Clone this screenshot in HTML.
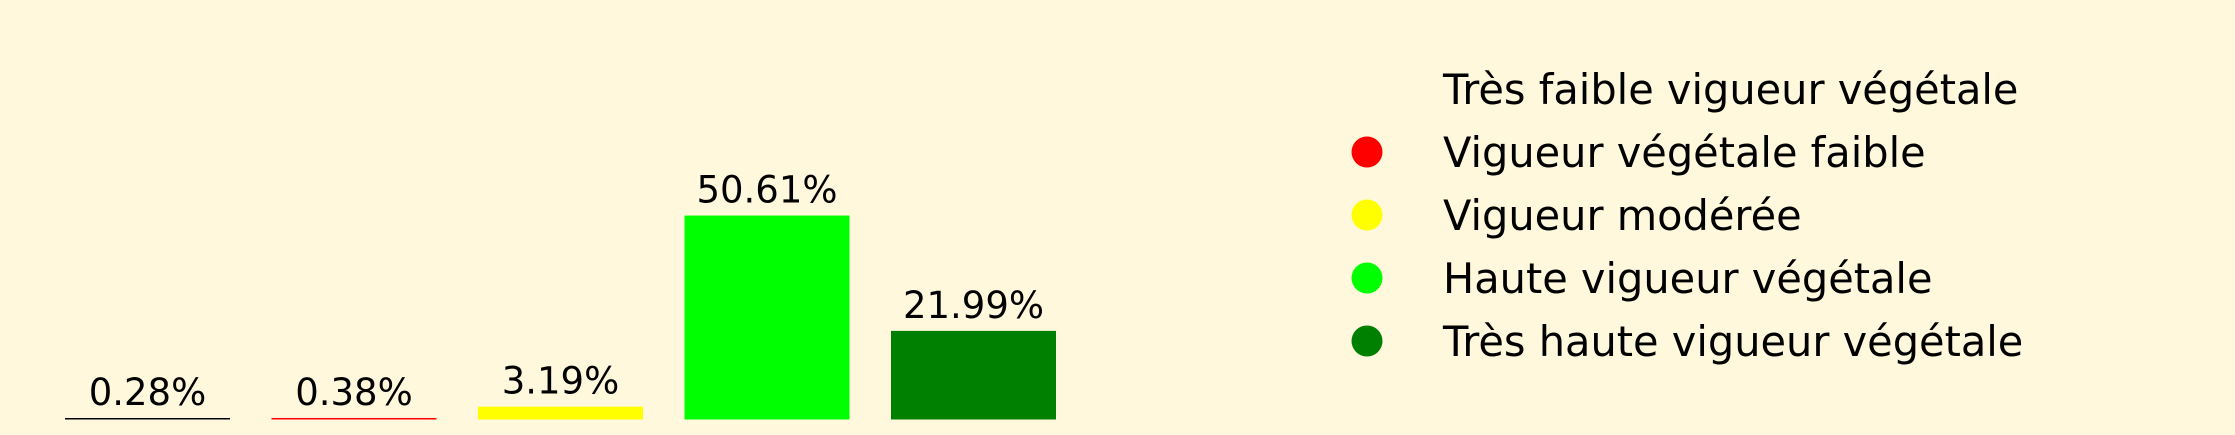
<!DOCTYPE html>
<html><head><meta charset="utf-8"><style>
html,body{margin:0;padding:0;background:#FFF8DC;}
svg{display:block;font-family:"DejaVu Sans","Liberation Sans",sans-serif;}
</style></head><body>
<svg id="chart" width="2235" height="435" viewBox="0 0 2235 435" xmlns="http://www.w3.org/2000/svg">
<rect width="2235" height="435" fill="#FFF8DC"/>
<g id="bars"></g>
<g id="legend"></g>
</svg>
<script>
const categories = ["Très faible vigueur végétale","Vigueur végétale faible","Vigueur modérée","Haute vigueur végétale","Très haute vigueur végétale"];
const values = [0.28, 0.38, 3.19, 50.61, 21.99];
const labels = ["0.28%","0.38%","3.19%","50.61%","21.99%"];
const colors = ["#000000","#ff0000","#ffff00","#00ff00","#008000"];
const legendColors = ["none","#ff0000","#ffff00","#00ff00","#008000"];

const NS = "http://www.w3.org/2000/svg";
const baseY = 419.5, pxPerPct = 4.03;
const x0 = 65, pitch = 206.5, barW = 165;
const yScale = v => baseY - v * pxPerPct;
const xScale = i => x0 + i * pitch;
const bars = document.getElementById("bars");
values.forEach((v, i) => {
  const r = document.createElementNS(NS, "rect");
  const top = yScale(v);
  const h = Math.max(baseY - top, 1.5);
  r.setAttribute("x", xScale(i));
  r.setAttribute("y", baseY - h);
  r.setAttribute("width", barW);
  r.setAttribute("height", h);
  r.setAttribute("fill", colors[i]);
  
  
  bars.appendChild(r);
  const t = document.createElementNS(NS, "text");
  t.setAttribute("x", xScale(i) + barW / 2);
  t.setAttribute("y", Math.min(top, baseY - 1.5) - 13);
  t.setAttribute("text-anchor", "middle");
  t.setAttribute("font-size", "37");
  t.setAttribute("fill", "#000");
  t.textContent = labels[i];
  
  
  bars.appendChild(t);
});
const legend = document.getElementById("legend");
categories.forEach((c, i) => {
  const cy = 89 + i * 63;
  if (legendColors[i] !== "none") {
    const e = document.createElementNS(NS, "circle");
    e.setAttribute("cx", 1367);
    e.setAttribute("cy", cy);
    e.setAttribute("r", 15.5);
    e.setAttribute("fill", legendColors[i]);
    
    
    legend.appendChild(e);
  }
  const t = document.createElementNS(NS, "text");
  t.setAttribute("x", 1443);
  t.setAttribute("y", cy + 15);
  t.setAttribute("font-size", "41.5");
  t.setAttribute("fill", "#000");
  t.textContent = c;
  
  
  legend.appendChild(t);
});
</script>
</body></html>
